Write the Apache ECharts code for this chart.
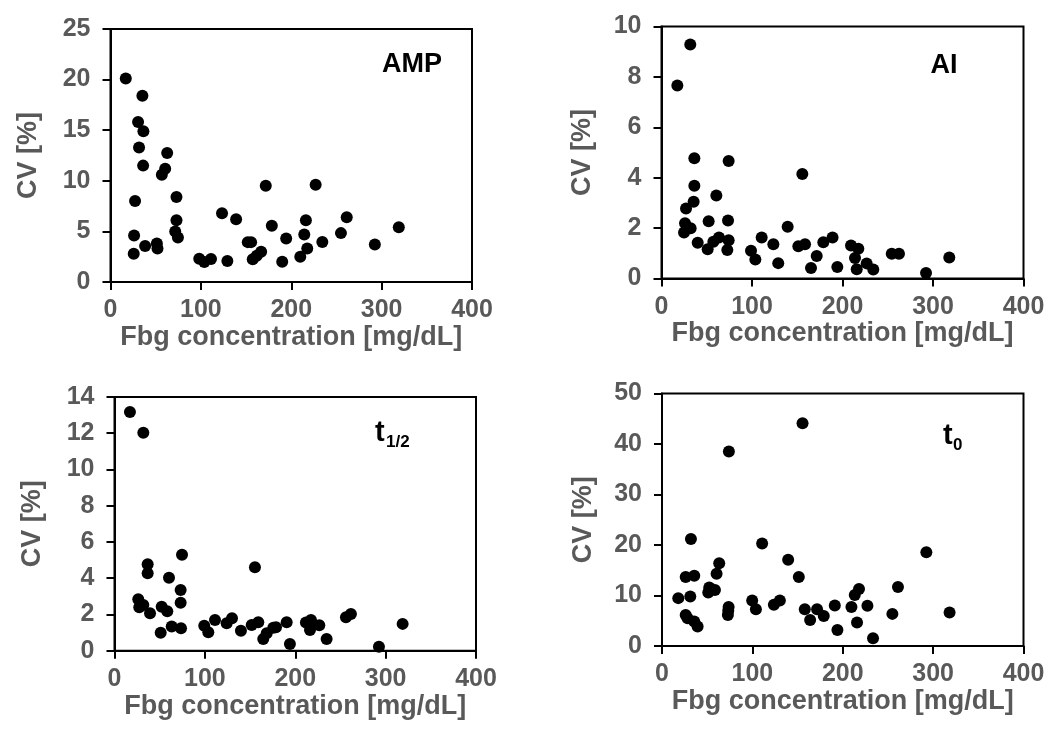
<!DOCTYPE html>
<html>
<head>
<meta charset="utf-8">
<script src="https://cdn.jsdelivr.net/npm/echarts@6/dist/echarts.min.js"></script>
<style>
  html, body { margin: 0; padding: 0; background: #fff; }
  #chart { width: 1051px; height: 738px; }
</style>
</head>
<body>
<div id="chart"></div>
<script>
// Coefficient of variation vs. fibrinogen concentration, one panel per parameter
const xTicks = [0, 100, 200, 300, 400];

// AMP: [Fbg mg/dL, CV %]
const ampPoints = [
  [16.9, 20.1], [35.3, 18.4], [30.5, 15.8], [36.4, 14.9], [31.6, 13.3], [36.1, 11.5],
  [62.7, 12.75], [60.5, 11.2], [56.8, 10.6], [27.2, 8.0], [73, 8.4], [73, 6.1],
  [71.6, 5.0], [74.6, 4.4], [26.1, 4.6], [25.7, 2.8], [38.3, 3.55], [51.3, 3.8],
  [52, 3.3], [98.2, 2.3], [103.8, 1.97], [111.2, 2.27], [129.3, 2.07], [123.4, 6.8],
  [139, 6.2], [171.8, 9.5], [178.5, 5.55], [151.9, 3.94], [155.6, 3.94], [166.7, 3.0],
  [161.8, 2.6], [157.4, 2.24], [190, 2.0], [194.4, 4.3], [227, 9.6], [216.2, 6.1],
  [214.4, 4.7], [217.7, 3.3], [210, 2.5], [234.4, 3.95], [255, 4.83], [261.4, 6.4],
  [292.5, 3.7], [319, 5.4]
];

// AI
const aiPoints = [
  [31.8, 9.29], [17.5, 7.66], [36.3, 4.77], [74.2, 4.66], [155.6, 4.15], [36.3, 3.68],
  [35.5, 3.05], [27.1, 2.78], [60.6, 3.29], [26, 2.19], [32.2, 1.99], [24.9, 1.83],
  [52.1, 2.27], [73.5, 2.3], [40, 1.42], [57.3, 1.46], [63.5, 1.63], [74.2, 1.52],
  [51, 1.16], [72.7, 1.13], [98.9, 1.1], [103.7, 0.75], [110.7, 1.63], [123.6, 1.36],
  [129, 0.61], [139.4, 2.05], [151.2, 1.28], [158.6, 1.36], [171.5, 0.89], [165.2, 0.42],
  [178.8, 1.44], [189, 1.63], [194.3, 0.46], [209.4, 1.31], [217.5, 1.18], [213.8, 0.81],
  [215.7, 0.37], [226.7, 0.6], [234, 0.36], [254.4, 0.98], [262.4, 0.98], [292.3, 0.22],
  [318, 0.83]
];

// t1/2
const tHalfPoints = [
  [17.1, 13.17], [31.9, 12.03], [36.7, 4.77], [36.7, 4.27], [74.7, 5.29], [60.3, 4.03],
  [73.2, 3.35], [73.2, 2.65], [26.3, 2.84], [27.4, 2.4], [31.9, 2.52], [39.3, 2.07],
  [52.2, 2.43], [58.4, 2.18], [51.1, 0.99], [63.3, 1.33], [73.6, 1.24], [99.3, 1.38],
  [103.8, 1.02], [111.2, 1.7], [124.1, 1.51], [130, 1.79], [139.9, 1.1], [151.8, 1.42],
  [159.1, 1.57], [155.4, 4.6], [164.6, 0.65], [168.4, 0.96], [175.7, 1.27], [178.7, 1.29],
  [190.5, 1.57], [194.1, 0.37], [211.8, 1.55], [217.4, 1.7], [216.3, 1.14], [218, 1.51],
  [226.6, 1.4], [234.7, 0.65], [256.1, 1.84], [261.6, 2.03], [292.6, 0.22], [318.8, 1.48]
];

// t0
const tZeroPoints = [
  [18, 9.48], [31.3, 9.8], [32, 21.2], [26.2, 13.66], [35.7, 13.9], [26.2, 6.16],
  [28.4, 5.5], [35.7, 4.83], [39.4, 3.84], [74, 38.5], [155.5, 44.1], [63.3, 16.4],
  [60.4, 14.3], [52.3, 11.6], [58.6, 11.1], [51.2, 10.6], [73.7, 7.7], [72.9, 6.16],
  [73.3, 7.0], [99.8, 9.0], [103.9, 7.3], [110.8, 20.3], [123.8, 8.15], [130.4, 9.0],
  [139.6, 17.1], [151.4, 13.66], [158, 7.3], [163.9, 5.17], [171.6, 7.3], [179, 5.96],
  [191.2, 8.0], [194.1, 3.18], [209.6, 7.7], [213.3, 10.1], [218, 11.3], [215.8, 4.64],
  [227.3, 7.95], [233.5, 1.52], [254.9, 6.36], [261.1, 11.67], [292.5, 18.55], [318.2, 6.62]
];

const yRanges = [
  { max: 25, interval: 5 },
  { max: 10, interval: 2 },
  { max: 14, interval: 2 },
  { max: 50, interval: 10 }
];

const xName = 'Fbg concentration [mg/dL]';
const yName = 'CV [%]';
const FONT = '"Liberation Sans", Arial, sans-serif';
const GREY = '#595959';

const grids = [
  { left: 110.5, top: 29, width: 361.5, height: 253 },
  { left: 661.5, top: 26.5, width: 362, height: 252 },
  { left: 114.5, top: 397, width: 361.5, height: 253.7 },
  { left: 662, top: 393.5, width: 361.5, height: 252.5 }
];
const yNameGaps = [68, 65, 68, 65];

const axisCommon = {
  axisLine: { show: true, onZero: false, lineStyle: { color: '#000', width: 2 } },
  axisTick: { show: true, inside: false, length: 8, lineStyle: { color: '#000', width: 2 } },
  splitLine: { show: false },
  axisLabel: { color: GREY, fontSize: 25, fontWeight: 'bold', fontFamily: FONT },
  nameTextStyle: { color: GREY, fontSize: 27, fontWeight: 'bold', fontFamily: FONT }
};

const panelData = [ampPoints, aiPoints, tHalfPoints, tZeroPoints];

const option = {
  backgroundColor: '#fff',
  animation: false,
  grid: grids.map(g => Object.assign({
    show: true, borderColor: '#000', borderWidth: 2,
    containLabel: false, outerBoundsMode: 'none'
  }, g)),
  xAxis: grids.map((g, i) => Object.assign({}, axisCommon, {
    type: 'value', gridIndex: i, min: xTicks[0], max: xTicks[xTicks.length - 1],
    interval: xTicks[1] - xTicks[0],
    name: xName, nameLocation: 'middle', nameGap: 36,
    axisLabel: Object.assign({}, axisCommon.axisLabel, { margin: 16 })
  })),
  yAxis: grids.map((g, i) => Object.assign({}, axisCommon, {
    type: 'value', gridIndex: i, min: 0, max: yRanges[i].max, interval: yRanges[i].interval,
    name: yName, nameLocation: 'middle', nameGap: yNameGaps[i],
    axisLabel: Object.assign({}, axisCommon.axisLabel, { margin: 20 })
  })),
  series: panelData.map((pts, i) => ({
    type: 'scatter', xAxisIndex: i, yAxisIndex: i,
    data: pts, symbol: 'circle', symbolSize: 12,
    itemStyle: { color: '#000', opacity: 1 }
  })),
  graphic: [
    { type: 'text', x: 412, y: 65, style: { text: 'AMP', fill: '#000', font: 'bold 27px ' + FONT, textAlign: 'center', textVerticalAlign: 'middle' } },
    { type: 'text', x: 944, y: 66, style: { text: 'AI', fill: '#000', font: 'bold 27px ' + FONT, textAlign: 'center', textVerticalAlign: 'middle' } },
    { type: 'text', x: 375, y: 433, style: { text: 't', fill: '#000', font: 'bold 29px ' + FONT, textAlign: 'left', textVerticalAlign: 'middle' } },
    { type: 'text', x: 386, y: 442, style: { text: '1/2', fill: '#000', font: 'bold 17px ' + FONT, textAlign: 'left', textVerticalAlign: 'middle' } },
    { type: 'text', x: 943, y: 436, style: { text: 't', fill: '#000', font: 'bold 29px ' + FONT, textAlign: 'left', textVerticalAlign: 'middle' } },
    { type: 'text', x: 953, y: 445, style: { text: '0', fill: '#000', font: 'bold 17px ' + FONT, textAlign: 'left', textVerticalAlign: 'middle' } }
  ]
};

const chart = echarts.init(document.getElementById('chart'), null, { renderer: 'canvas' });
chart.setOption(option);
</script>
</body>
</html>
